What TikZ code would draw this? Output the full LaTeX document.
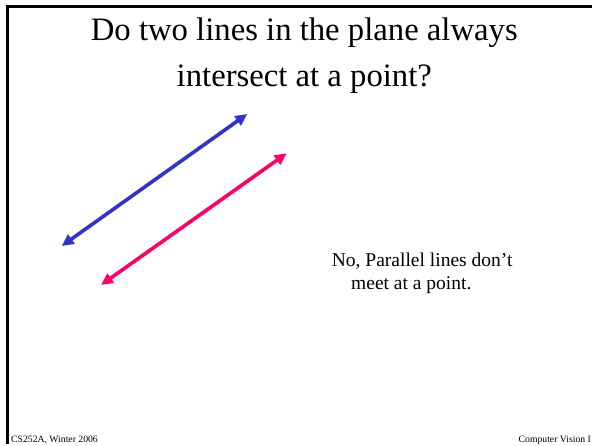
\documentclass[tikz,border=0pt]{standalone}
\usepackage{fontspec}
\setmainfont{Liberation Serif}
\usetikzlibrary{arrows.meta}
\definecolor{lineblue}{HTML}{3333CC}
\definecolor{linered}{HTML}{FF0066}
\tikzset{
  frame/.style={line width=3pt, black},
  parline/.style={line width=3.6pt, {Triangle[length=12pt,width=11pt]}-{Triangle[length=12pt,width=11pt]}, shorten <=0pt, shorten >=0pt},
  titletext/.style={inner sep=0pt, anchor=base, font=\fontsize{32.7}{38}\selectfont},
  bodytext/.style={inner sep=0pt, anchor=base west, font=\fontsize{19.5}{23}\selectfont},
  foottext/.style={inner sep=0pt, anchor=base west, font=\fontsize{9.7}{11}\selectfont}
}
\begin{document}
\begin{tikzpicture}[x=1pt,y=1pt]
\useasboundingbox (0,0) rectangle (592,446);
\fill[white] (0,0) rectangle (592,446);
% frame (left and top edges)
\coordinate (fbl) at (7.5,2);
\coordinate (ftl) at (7.5,439.5);
\coordinate (ftr) at (600,439.5);
\draw[frame] (fbl) -- (ftl) -- (ftr);
% title
\node[titletext] (t1) at (304.3,405.5) {Do two lines in the plane always};
\node[titletext] (t2) at (304.3,359) {intersect at a point?};
% lines
\coordinate (b1) at (61.7,200);
\coordinate (b2) at (247.3,332);
\coordinate (r1) at (101,161);
\coordinate (r2) at (286.7,292.7);
\draw[parline, lineblue] (b1) -- (b2);
\draw[parline, linered] (r1) -- (r2);
% body text
\node[bodytext] (a1) at (331.7,179.3) {No, Parallel lines don’t};
\node[bodytext] (a2) at (351,156) {meet at a point.};
% footer
\node[foottext] (f1) at (11,3.5) {CS252A, Winter 2006};
\node[foottext] (f2) at (518.5,3.5) {Computer Vision I};
\end{tikzpicture}
\end{document}
